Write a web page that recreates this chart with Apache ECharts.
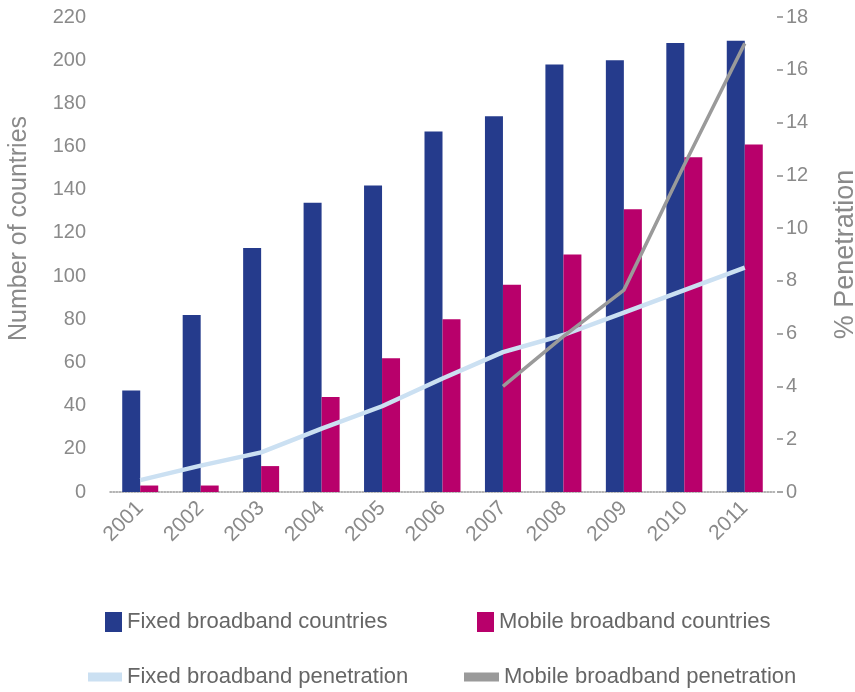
<!DOCTYPE html>
<html>
<head>
<meta charset="utf-8">
<script src="https://cdn.jsdelivr.net/npm/echarts@6/dist/echarts.min.js"></script>
<style>html,body{margin:0;padding:0;background:#fff}#c{width:855px;height:692px}</style>
</head>
<body>
<div id="c"></div>
<script>
var years = ['2001','2002','2003','2004','2005','2006','2007','2008','2009','2010','2011'];
var fixedCountries = [47, 82, 113, 134, 142, 167, 174, 198, 200, 208, 209];
var mobileCountries = [3, 3, 12, 44, 62, 80, 96, 110, 131, 155, 161];
var fixedPenetration = [0.45, 1.0, 1.5, 2.4, 3.25, 4.3, 5.3, 5.95, 6.8, 7.65, 8.5];
var mobilePenetration = [null, null, null, null, null, null, 4.0, 5.9, 7.65, 12.4, 17.0];
var leftTicks = {min: 0, max: 220, interval: 20};
var rightTicks = {min: 0, max: 18, interval: 2};

var FONT = "'Liberation Sans', Arial, sans-serif";
var TXT = '#8a8a8a';
var chart = echarts.init(document.getElementById('c'));
var legendText = {color: '#666666', fontSize: 22, fontFamily: FONT};
chart.setOption({
  animation: false,
  backgroundColor: '#ffffff',
  grid: {left: 110, right: 80, top: 17, bottom: 200, outerBoundsMode: 'none', containLabel: false},
  legend: [
    {data: ['Fixed broadband countries'], left: 100, top: 606, itemWidth: 17, itemHeight: 20, textStyle: legendText, icon: 'rect'},
    {data: ['Mobile broadband countries'], left: 472, top: 606, itemWidth: 17, itemHeight: 20, textStyle: legendText, icon: 'rect'},
    {data: ['Fixed broadband penetration'], left: 83, top: 661, itemWidth: 34, itemHeight: 9, textStyle: legendText, icon: 'rect'},
    {data: ['Mobile broadband penetration'], left: 459, top: 661, itemWidth: 35, itemHeight: 9, textStyle: legendText, icon: 'rect'}
  ],
  xAxis: {
    type: 'category', data: years,
    axisLine: {show: true, lineStyle: {color: '#9a9a9a', type: 'dotted', width: 1.5}},
    axisTick: {show: false},
    axisLabel: {rotate: 45, color: TXT, fontSize: 21, fontFamily: FONT, margin: 13}
  },
  yAxis: [
    {
      type: 'value', min: leftTicks.min, max: leftTicks.max, interval: leftTicks.interval,
      name: 'Number of countries', nameLocation: 'middle', nameGap: 78, nameRotate: 90,
      nameTextStyle: {color: TXT, fontSize: 25, fontFamily: FONT, padding: [0, 0, 0, 52]},
      axisLine: {show: false}, axisTick: {show: false}, splitLine: {show: false},
      axisLabel: {color: TXT, fontSize: 20, fontFamily: FONT, margin: 24}
    },
    {
      type: 'value', min: rightTicks.min, max: rightTicks.max, interval: rightTicks.interval, position: 'right',
      offset: 2,
      name: '% Penetration', nameLocation: 'middle', nameGap: 55, nameRotate: 90,
      nameTextStyle: {color: TXT, fontSize: 27, fontFamily: FONT},
      axisLine: {show: false},
      axisTick: {show: true, length: 6, lineStyle: {color: '#8a8a8a', width: 1.5}},
      splitLine: {show: false},
      axisLabel: {color: TXT, fontSize: 20, fontFamily: FONT, margin: 9}
    }
  ],
  series: [
    {name: 'Fixed broadband countries', type: 'bar', data: fixedCountries, yAxisIndex: 0,
     itemStyle: {color: '#253b8c'}, barWidth: 18, barGap: '0%'},
    {name: 'Mobile broadband countries', type: 'bar', data: mobileCountries, yAxisIndex: 0,
     itemStyle: {color: '#b8006b'}, barWidth: 18},
    {name: 'Fixed broadband penetration', type: 'line', data: fixedPenetration, yAxisIndex: 1,
     showSymbol: false, symbol: 'none', lineStyle: {color: '#cbe0f2', width: 4.5}, itemStyle: {color: '#cbe0f2'}, z: 5},
    {name: 'Mobile broadband penetration', type: 'line', data: mobilePenetration, yAxisIndex: 1,
     showSymbol: false, symbol: 'none', lineStyle: {color: '#9a9a9a', width: 3.5}, itemStyle: {color: '#9a9a9a'}, z: 6}
  ]
});
</script>
</body>
</html>
